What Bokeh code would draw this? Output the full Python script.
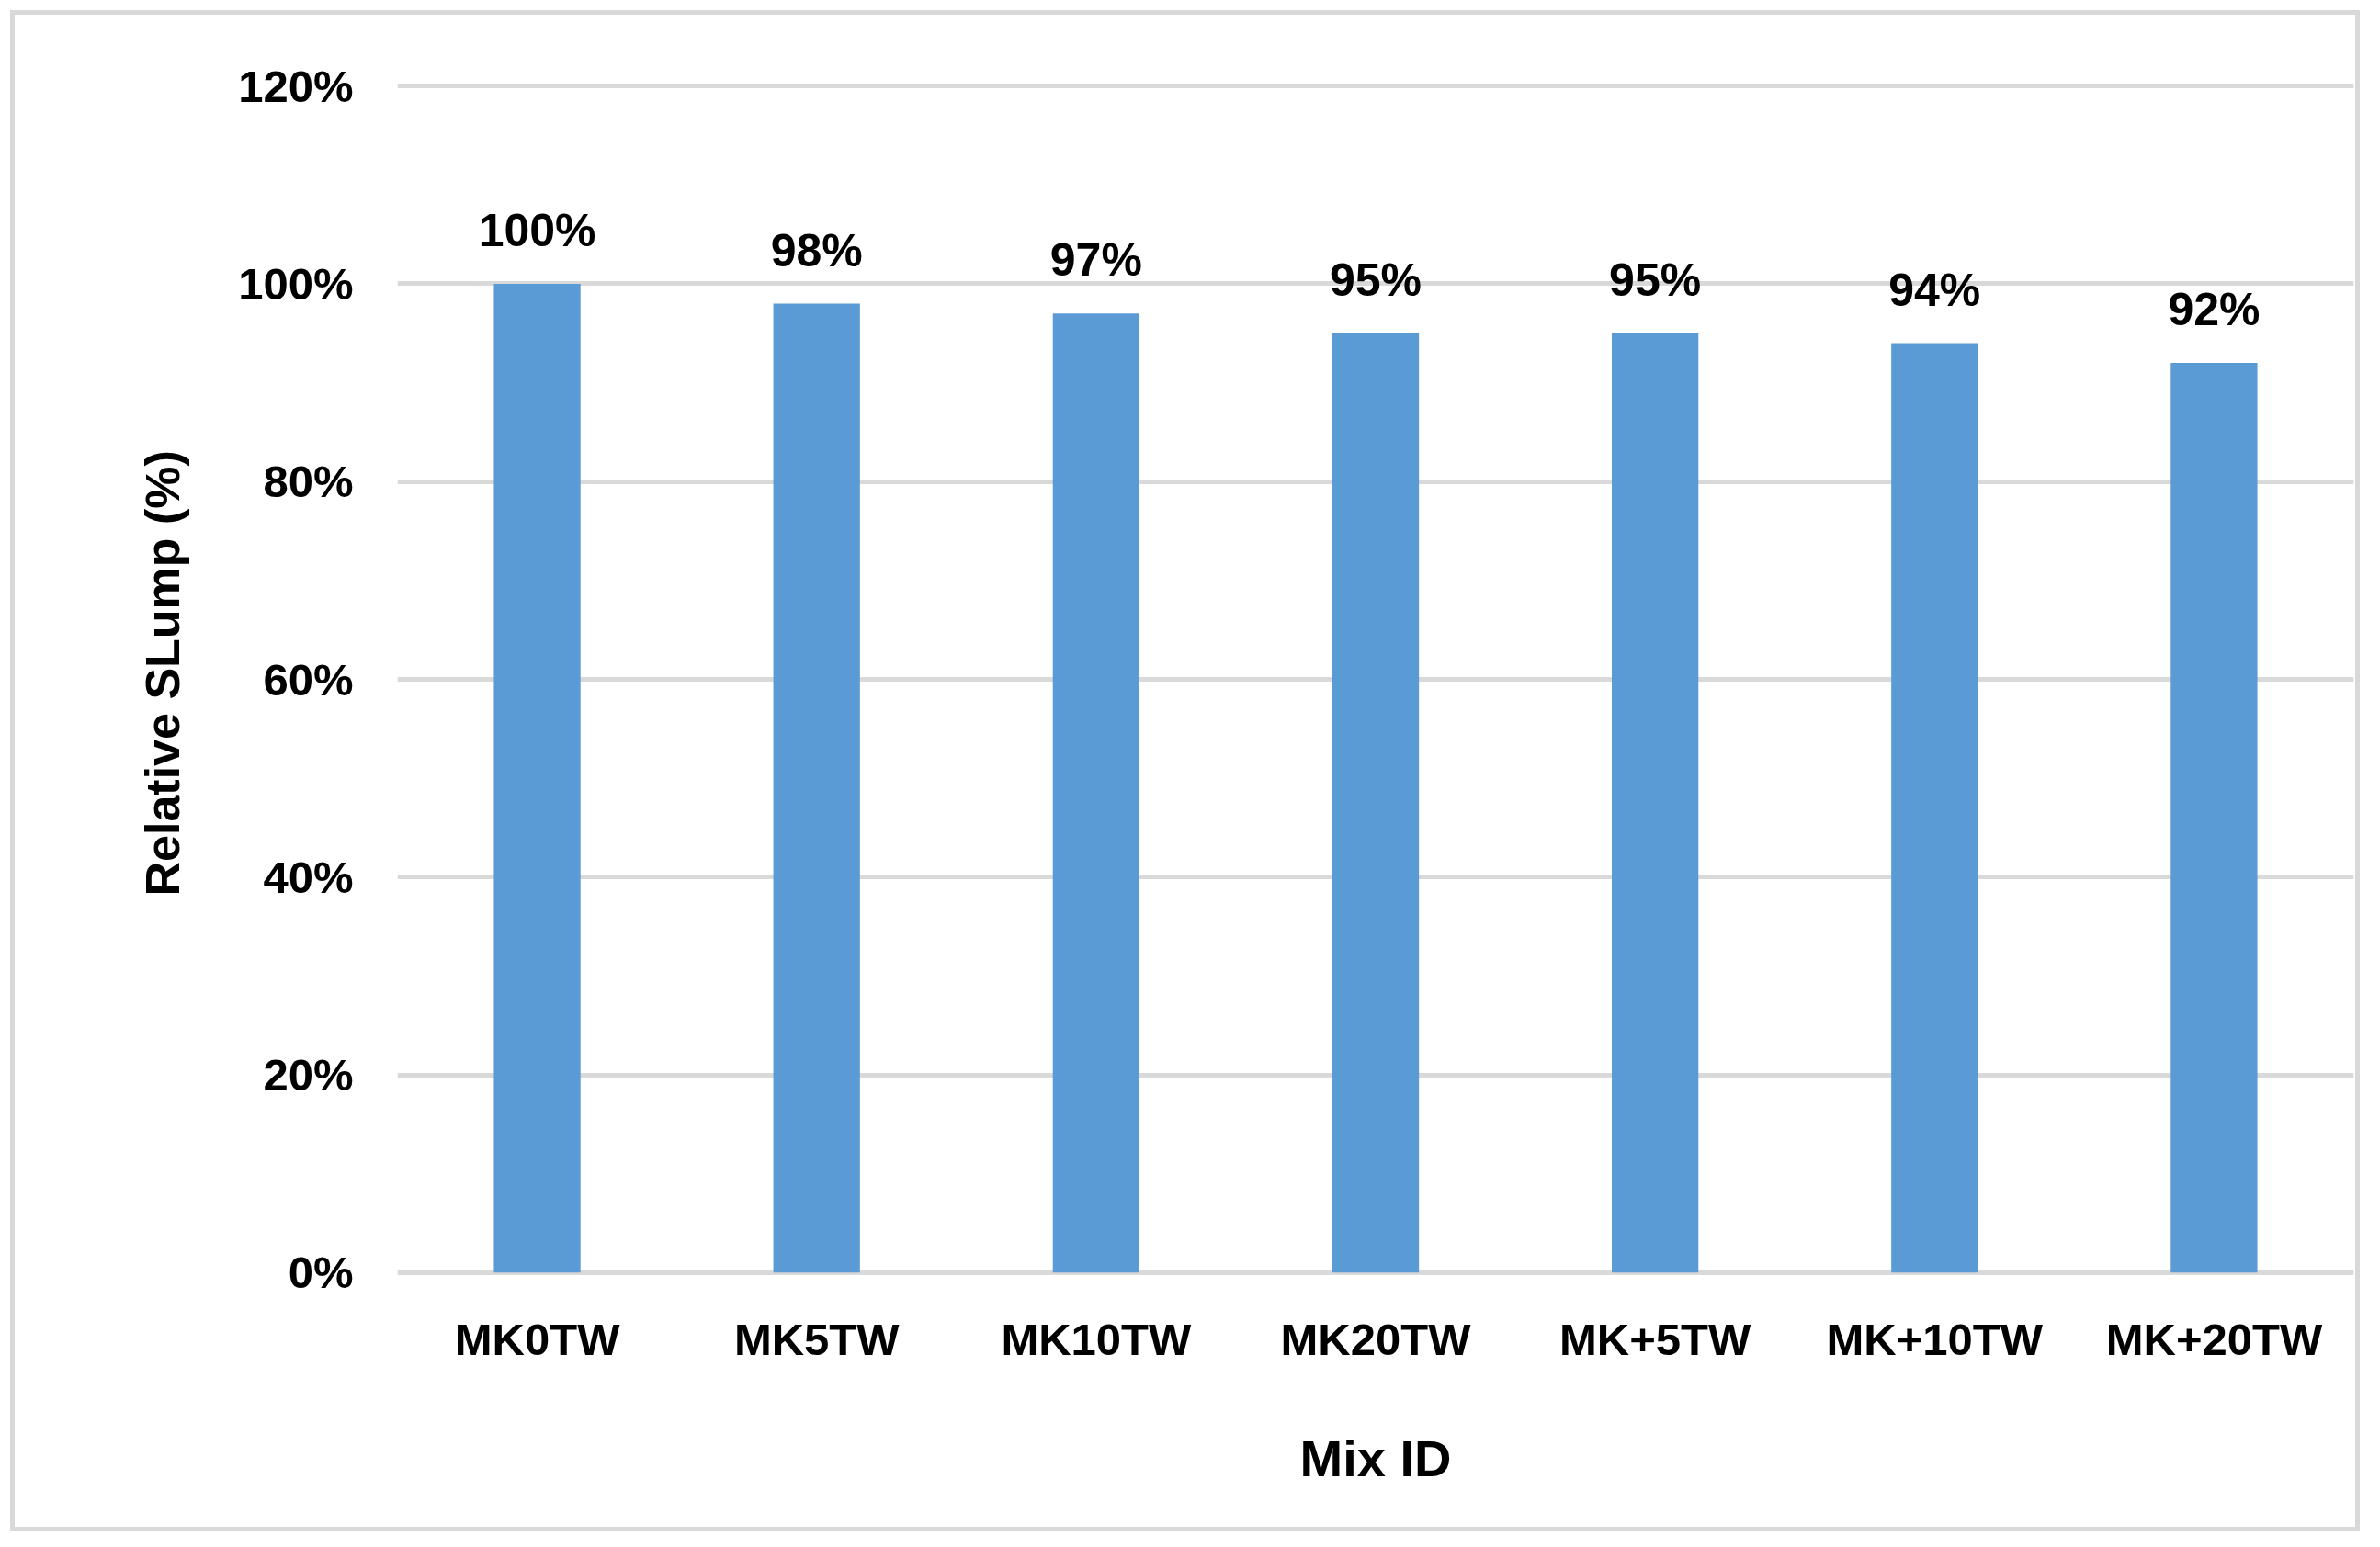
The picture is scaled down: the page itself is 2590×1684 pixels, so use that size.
from bokeh.plotting import figure
from bokeh.models import ColumnDataSource, FixedTicker, Range1d, LabelSet, Title
from bokeh.embed import file_html
from bokeh.resources import INLINE
from bokeh.core.properties import value

# ---- data ----
mix_ids = ["MK0TW", "MK5TW", "MK10TW", "MK20TW", "MK+5TW", "MK+10TW", "MK+20TW"]
relative_slump = [1.00, 0.98, 0.97, 0.95, 0.95, 0.94, 0.92]
value_labels = ["100%", "98%", "97%", "95%", "95%", "94%", "92%"]
y_ticks = [0.0, 0.2, 0.4, 0.6, 0.8, 1.0, 1.2]
y_tick_labels = ["0%", "20%", "40%", "60%", "80%", "100%", "120%"]
x_title = "Mix ID"
y_title = "Relative SLump (%)"

FONT = "Liberation Sans"
BAR = "#5b9bd5"
GRID = "#d9d9d9"

source = ColumnDataSource(dict(mix=mix_ids, val=relative_slump, lab=value_labels))

p = figure(
    x_range=mix_ids,
    y_range=Range1d(-0.003, 1.203),
    width=2557, height=1656,
    min_border_left=416, min_border_right=12,
    min_border_top=74, min_border_bottom=284,
    output_backend="svg", toolbar_location=None,
    background_fill_color="white", border_fill_color="white",
)
p.outline_line_color = None
p.styles = {"border": "5px solid #d9d9d9", "margin-left": "11px", "margin-top": "11px"}

p.vbar(x="mix", top="val", bottom=0, width=0.31, source=source,
       fill_color=BAR, line_color=None)

labels = LabelSet(x="mix", y="val", text="lab", source=source,
                  y_offset=41, text_align="center", text_baseline="alphabetic",
                  text_font=value(FONT), text_font_style="bold",
                  text_font_size="50px", text_color="black")
p.add_layout(labels)

# grid
p.xgrid.grid_line_color = None
p.ygrid.grid_line_color = GRID
p.ygrid.grid_line_width = 5
p.ygrid.ticker = FixedTicker(ticks=y_ticks)

# y axis
p.yaxis.ticker = FixedTicker(ticks=y_ticks)
p.yaxis.major_label_overrides = {t: l for t, l in zip(y_ticks, y_tick_labels)}
p.yaxis.axis_line_color = None
p.yaxis.major_tick_line_color = None
p.yaxis.minor_tick_line_color = None
p.yaxis.major_tick_out = 0
p.yaxis.major_tick_in = 0
p.yaxis.major_label_standoff = 48
p.yaxis.major_label_text_font = FONT
p.yaxis.major_label_text_font_style = "bold"
p.yaxis.major_label_text_font_size = "49px"
p.yaxis.major_label_text_color = "black"

# x axis
p.xaxis.axis_line_color = None
p.xaxis.major_tick_line_color = None
p.xaxis.major_tick_out = 0
p.xaxis.major_tick_in = 0
p.xaxis.major_label_standoff = 42
p.xaxis.major_label_text_font = FONT
p.xaxis.major_label_text_font_style = "bold"
p.xaxis.major_label_text_font_size = "49px"
p.xaxis.major_label_text_color = "black"
p.xaxis.axis_label = x_title
p.xaxis.axis_label_text_font = FONT
p.xaxis.axis_label_text_font_style = "bold"
p.xaxis.axis_label_text_font_size = "56px"
p.xaxis.axis_label_text_color = "black"
p.xaxis.axis_label_standoff = 68

# y title (starts a fixed distance above the frame bottom, as in original)
ytitle = Title(text=y_title, align="left", offset=413, standoff=101,
               text_font=FONT, text_font_style="bold",
               text_font_size="52px", text_color="black")
p.add_layout(ytitle, "left")

open("out.html", "w").write(file_html(p, INLINE))
